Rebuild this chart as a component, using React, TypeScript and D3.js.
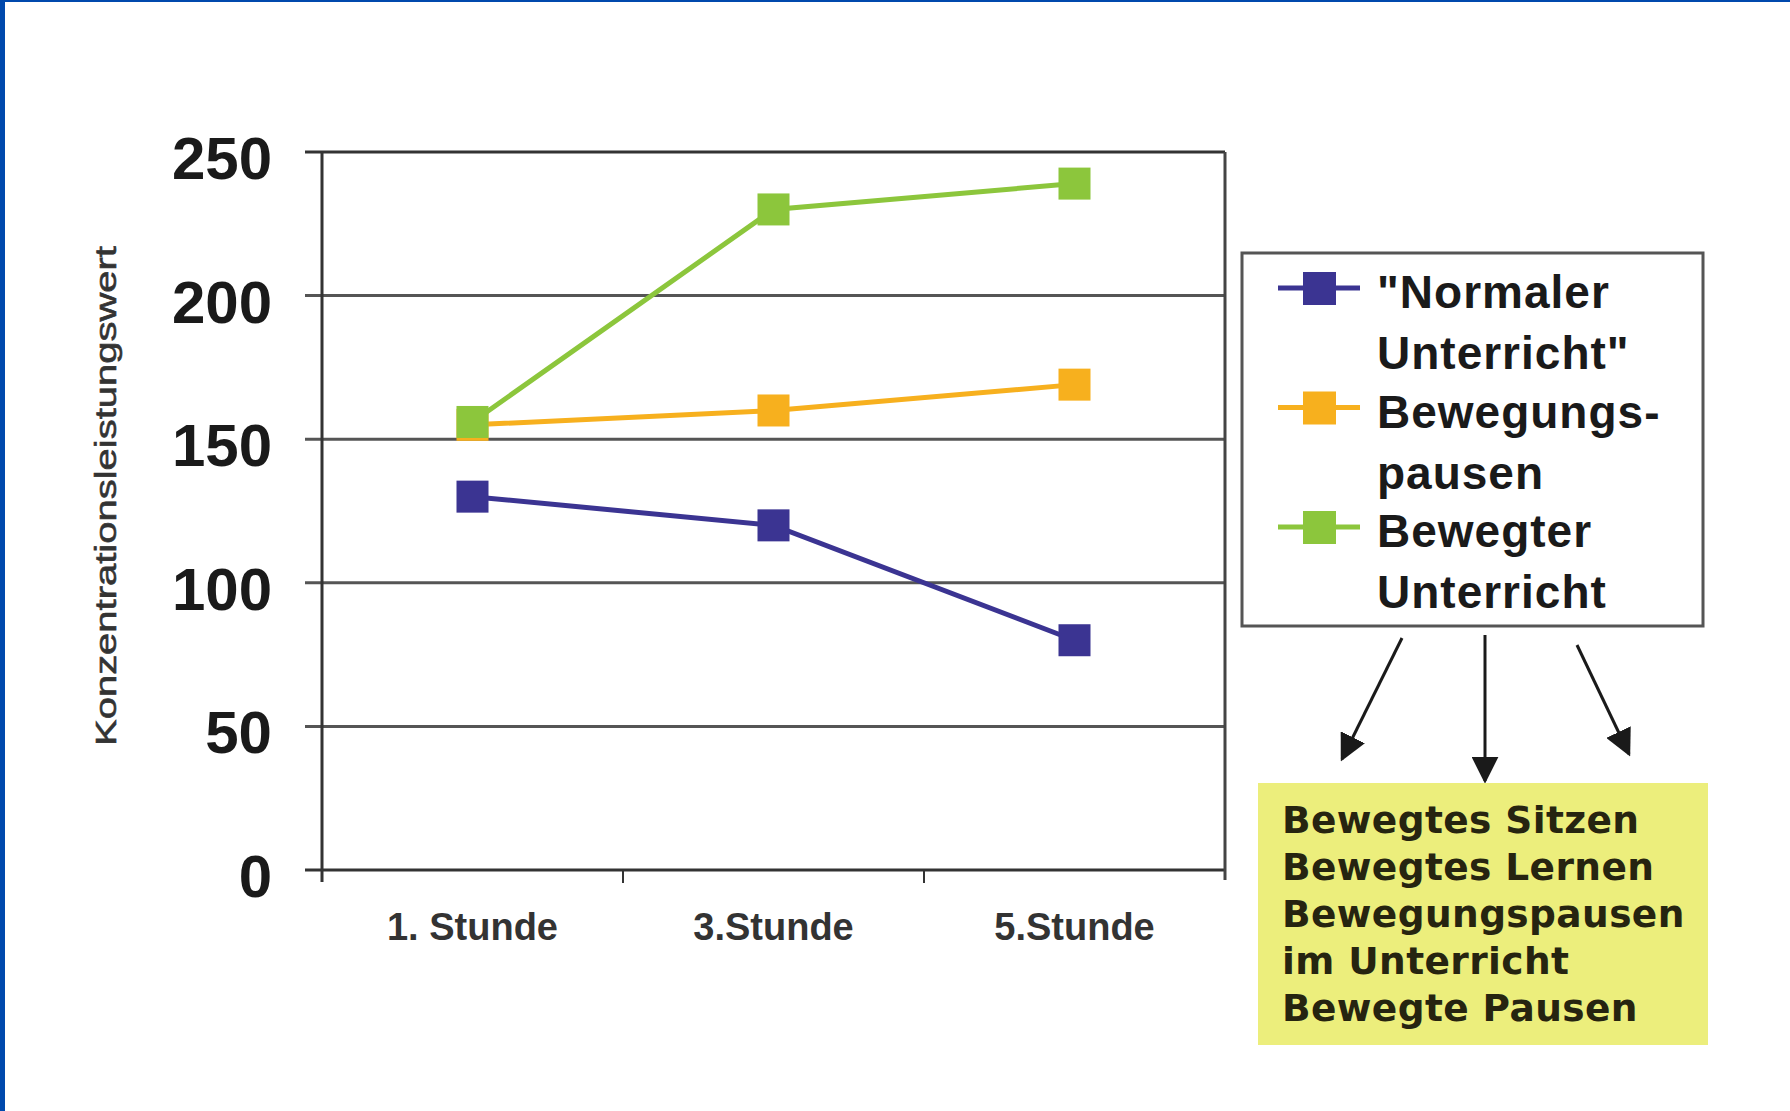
import React, { useRef, useEffect } from "react";
import * as d3 from "d3";

// Chart data
const categories = ["1. Stunde", "3.Stunde", "5.Stunde"];
const normalerUnterricht = [130, 120, 80];
const bewegungspausen = [155, 160, 169];
const bewegterUnterricht = [156, 230, 239];
const yTicks = [0, 50, 100, 150, 200, 250];

const seriesLabels = [
  ['"Normaler', 'Unterricht"'],
  ["Bewegungs-", "pausen"],
  ["Bewegter", "Unterricht"],
];
const seriesColors = ["#3b3492", "#f7b01e", "#8cc63c"];
const yTitle = "Konzentrationsleistungswert";
const boxLines = [
  "Bewegtes Sitzen",
  "Bewegtes Lernen",
  "Bewegungspausen",
  "im Unterricht",
  "Bewegte Pausen",
];

const W = 1790;
const H = 1111;

const App: React.FC = () => {
  const svgRef = useRef<SVGSVGElement>(null);

  useEffect(() => {
    if (!svgRef.current) return;
    const svg = d3.select(svgRef.current);
    svg.selectAll("*").remove();

    const sans = "'Liberation Sans', Arial, sans-serif";
    const left = 322;
    const right = 1225;
    const top = 152;
    const bottom = 870;

    // background + blue frame
    svg.append("rect").attr("width", W).attr("height", H).attr("fill", "#fff");
    svg.append("rect").attr("width", 5).attr("height", H).attr("fill", "#0049ad");
    svg.append("rect").attr("width", W).attr("height", 2).attr("fill", "#0049ad");

    const defs = svg.append("defs");
    defs
      .append("marker")
      .attr("id", "arrowhead")
      .attr("viewBox", "0 0 10 10")
      .attr("refX", 9)
      .attr("refY", 5)
      .attr("markerWidth", 9)
      .attr("markerHeight", 9)
      .attr("markerUnits", "strokeWidth")
      .attr("orient", "auto")
      .append("path")
      .attr("d", "M0,0 L10,5 L0,10 Z")
      .attr("fill", "#1a1a1a");

    // Scales
    const x = d3.scaleBand<string>().domain(categories).range([left, right]);
    const y = d3.scaleLinear().domain([0, 250]).range([bottom, top]);
    const cx = (c: string) => (x(c) || 0) + x.bandwidth() / 2;

    const g = svg.append("g");

    // Gridlines
    g.selectAll(".grid")
      .data(yTicks)
      .enter()
      .append("line")
      .attr("x1", left - 17)
      .attr("x2", right)
      .attr("y1", (d) => y(d))
      .attr("y2", (d) => y(d))
      .attr("stroke", (d) => (d === 0 || d === 250 ? "#333" : "#555"))
      .attr("stroke-width", 3);

    // Axis frame
    g.append("line")
      .attr("x1", left)
      .attr("x2", left)
      .attr("y1", top)
      .attr("y2", bottom + 12)
      .attr("stroke", "#333")
      .attr("stroke-width", 3);
    g.append("line")
      .attr("x1", right)
      .attr("x2", right)
      .attr("y1", top)
      .attr("y2", bottom + 10)
      .attr("stroke", "#444")
      .attr("stroke-width", 3);

    // X category boundary ticks
    g.selectAll(".xtick")
      .data(categories.slice(1))
      .enter()
      .append("line")
      .attr("x1", (d) => x(d) || 0)
      .attr("x2", (d) => x(d) || 0)
      .attr("y1", bottom)
      .attr("y2", bottom + 13)
      .attr("stroke", "#333")
      .attr("stroke-width", 2);

    // Y tick labels
    g.selectAll(".ylab")
      .data(yTicks)
      .enter()
      .append("text")
      .attr("x", 272)
      .attr("y", (d) => y(d) + 27)
      .attr("text-anchor", "end")
      .attr("font-family", sans)
      .attr("font-weight", "bold")
      .attr("font-size", 60)
      .attr("fill", "#1a1a1a")
      .text((d) => d);

    // X labels
    g.selectAll(".xlab")
      .data(categories)
      .enter()
      .append("text")
      .attr("x", (d) => cx(d))
      .attr("y", 940)
      .attr("text-anchor", "middle")
      .attr("font-family", sans)
      .attr("font-weight", "bold")
      .attr("font-size", 38)
      .attr("fill", "#333")
      .text((d) => d);

    // Y title
    g.append("text")
      .attr("transform", `translate(116,496) rotate(-90)`)
      .attr("text-anchor", "middle")
      .attr("font-family", sans)
      .attr("font-size", 30)
      .attr("fill", "#333")
      .attr("stroke", "#333")
      .attr("stroke-width", 0.6)
      .attr("textLength", 500)
      .attr("lengthAdjust", "spacingAndGlyphs")
      .text(yTitle);

    // Lines + markers
    const series = [normalerUnterricht, bewegungspausen, bewegterUnterricht];
    const line = d3
      .line<number>()
      .x((_d, i) => cx(categories[i]))
      .y((d) => y(d));

    series.forEach((values, si) => {
      g.append("path")
        .datum(values)
        .attr("fill", "none")
        .attr("stroke", seriesColors[si])
        .attr("stroke-width", 5)
        .attr("d", line);
      g.selectAll(`.dot${si}`)
        .data(values)
        .enter()
        .append("rect")
        .attr("x", (_d, i) => cx(categories[i]) - 16)
        .attr("y", (d) => y(d) - 16)
        .attr("width", 32)
        .attr("height", 32)
        .attr("fill", seriesColors[si]);
    });

    // Legend
    const lg = { x: 1242, y: 253, w: 461, h: 373 };
    svg
      .append("rect")
      .attr("x", lg.x)
      .attr("y", lg.y)
      .attr("width", lg.w)
      .attr("height", lg.h)
      .attr("fill", "#fff")
      .attr("stroke", "#555")
      .attr("stroke-width", 3);

    seriesLabels.forEach((lines, i) => {
      const base = lg.y + 55 + i * 119.5;
      const sy = base - 20;
      svg
        .append("line")
        .attr("x1", lg.x + 36)
        .attr("x2", lg.x + 118)
        .attr("y1", sy)
        .attr("y2", sy)
        .attr("stroke", seriesColors[i])
        .attr("stroke-width", 5);
      svg
        .append("rect")
        .attr("x", lg.x + 77 - 16)
        .attr("y", sy - 16)
        .attr("width", 33)
        .attr("height", 33)
        .attr("fill", seriesColors[i]);
      lines.forEach((t, j) => {
        svg
          .append("text")
          .attr("x", lg.x + 135)
          .attr("y", base + j * 61)
          .attr("font-family", sans)
          .attr("font-weight", "bold")
          .attr("font-size", 46)
          .attr("letter-spacing", 1)
          .attr("fill", "#1a1a1a")
          .text(t);
      });
    });

    // Arrows from legend to yellow box
    const arrows = [
      [lg.x + 160, lg.y + lg.h + 12, lg.x + 100, lg.y + lg.h + 133],
      [lg.x + 243, lg.y + lg.h + 9, lg.x + 243, lg.y + lg.h + 155],
      [lg.x + 335, lg.y + lg.h + 19, lg.x + 387, lg.y + lg.h + 128],
    ];
    arrows.forEach(([x1, y1, x2, y2]) => {
      svg
        .append("line")
        .attr("x1", x1)
        .attr("y1", y1)
        .attr("x2", x2)
        .attr("y2", y2)
        .attr("stroke", "#1a1a1a")
        .attr("stroke-width", 3)
        .attr("marker-end", "url(#arrowhead)");
    });

    // Yellow box
    const yb = { x: 1258, y: 783, w: 450, h: 262 };
    svg
      .append("rect")
      .attr("x", yb.x)
      .attr("y", yb.y)
      .attr("width", yb.w)
      .attr("height", yb.h)
      .attr("fill", "#ecee7c");
    boxLines.forEach((t, i) => {
      svg
        .append("text")
        .attr("x", yb.x + 24)
        .attr("y", yb.y + 50 + i * 47)
        .attr("font-family", "'DejaVu Sans', Verdana, sans-serif")
        .attr("font-weight", "bold")
        .attr("font-size", 37.5)
        .attr("letter-spacing", 0.4)
        .attr("fill", "#262410")
        .text(t);
    });
  }, []);

  return (
    <svg
      ref={svgRef}
      width={W}
      height={H}
      viewBox={`0 0 ${W} ${H}`}
      style={{ position: "absolute", left: 0, top: 0, display: "block" }}
    ></svg>
  );
};

export default App;
